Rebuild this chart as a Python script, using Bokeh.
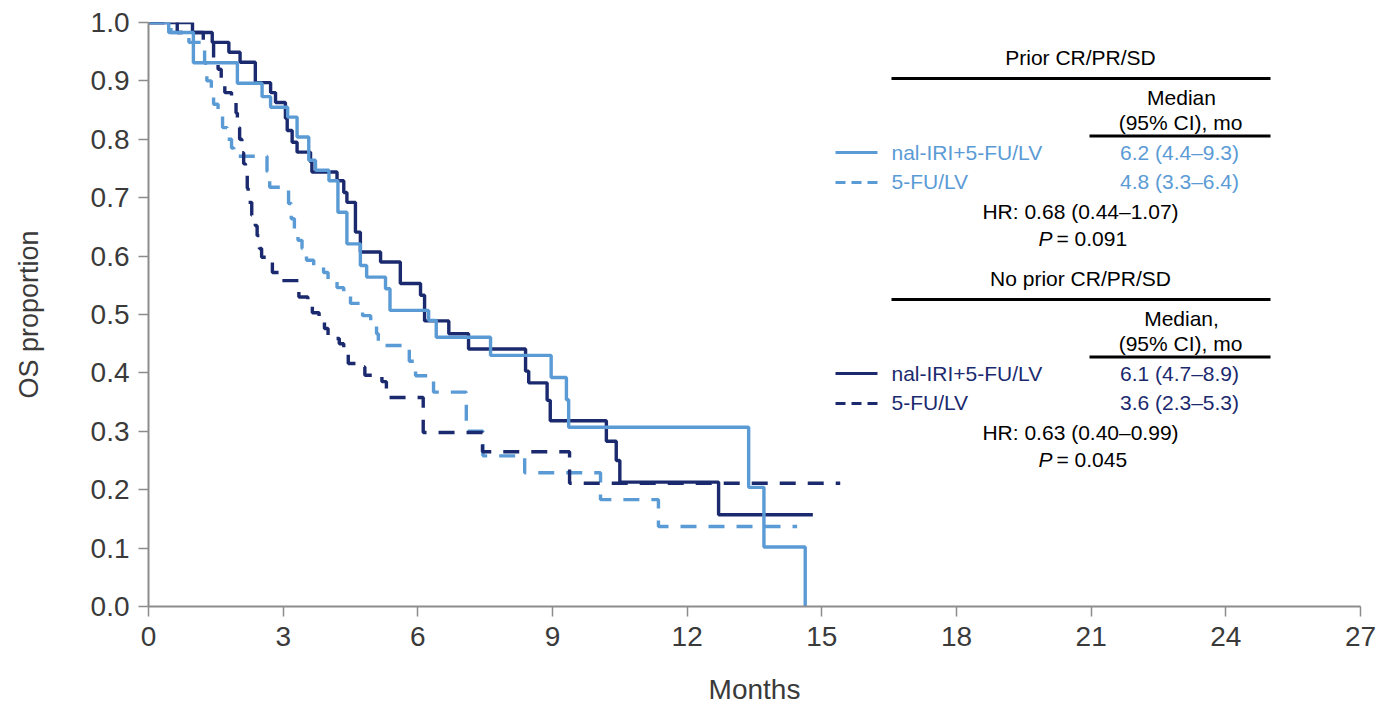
from bokeh.plotting import figure
from bokeh.models import FixedTicker, PrintfTickFormatter, Range1d
from bokeh.core.properties import value
from bokeh.embed import file_html
from bokeh.resources import INLINE

LIGHT = "#5B9BD5"
NAVY = "#1B2A6E"
FONT = "Liberation Sans"

# ---- data: Kaplan-Meier step curves (months, OS proportion) ----
t_nal_prior = [0, 0.45, 1.0, 1.98, 2.53, 2.72, 3.1, 3.31, 3.57, 3.72, 4.02, 4.22, 4.42, 4.72, 4.86,
               5.28, 5.38, 6.24, 6.41, 7.62, 8.97, 9.31, 9.36, 13.37, 13.71, 14.63]
s_nal_prior = [1.0, 0.983, 0.931, 0.896, 0.873, 0.855, 0.838, 0.804, 0.764, 0.747, 0.729, 0.675, 0.621, 0.584, 0.564,
               0.544, 0.507, 0.490, 0.461, 0.430, 0.392, 0.354, 0.307, 0.204, 0.102, 0.0]

t_fu_prior = [0, 0.5, 0.9, 1.25, 1.3, 1.4, 1.45, 1.55, 1.65, 1.75, 1.85, 1.9, 2.64, 2.7, 3.12, 3.18, 3.25,
              3.33, 3.42, 3.52, 3.68, 3.9, 4.0, 4.2, 4.35, 4.5, 4.77, 4.95, 5.08, 5.12, 5.81, 5.95, 6.35,
              7.08, 7.45, 8.38, 10.07, 11.36, 14.45]
s_fu_prior = [1.0, 0.983, 0.966, 0.93, 0.90, 0.875, 0.86, 0.84, 0.82, 0.80, 0.785, 0.771, 0.745, 0.718, 0.69, 0.664, 0.647,
              0.627, 0.613, 0.593, 0.584, 0.572, 0.558, 0.546, 0.533, 0.519, 0.498, 0.485, 0.467, 0.447, 0.42, 0.395, 0.367,
              0.30, 0.258, 0.229, 0.183, 0.137, 0.137]

t_nal_noprior = [0, 0.98, 1.42, 1.79, 2.04, 2.38, 2.72, 2.83, 3.05, 3.09, 3.20, 3.31, 3.61, 3.64, 4.2, 4.35,
                 4.42, 4.61, 4.72, 5.17, 5.61, 6.06, 6.15, 6.69, 7.13, 8.40, 8.47, 8.88, 8.95, 10.2, 10.42,
                 10.5, 12.7, 14.8]
s_nal_noprior = [1.0, 0.983, 0.966, 0.949, 0.932, 0.897, 0.88, 0.863, 0.836, 0.815, 0.795, 0.778, 0.761, 0.744, 0.729, 0.709,
                 0.692, 0.641, 0.607, 0.590, 0.553, 0.533, 0.489, 0.467, 0.441, 0.403, 0.383, 0.353, 0.318, 0.283, 0.25,
                 0.213, 0.157, 0.157]

t_fu_noprior = [0, 0.64, 1.22, 1.45, 1.55, 1.62, 1.7, 1.85, 1.95, 1.98, 2.03, 2.08, 2.12, 2.16, 2.2, 2.22,
                2.3, 2.38, 2.42, 2.47, 2.52, 2.76, 2.95, 3.35, 3.55, 3.65, 3.8, 3.92, 4.0, 4.25, 4.35, 4.45,
                4.7, 4.82, 5.2, 5.3, 6.12, 7.44, 9.38, 15.41]
s_fu_noprior = [1.0, 0.983, 0.966, 0.94, 0.92, 0.90, 0.88, 0.863, 0.845, 0.82, 0.80, 0.777, 0.758, 0.738, 0.716, 0.692,
                0.67, 0.652, 0.635, 0.613, 0.598, 0.572, 0.558, 0.53, 0.515, 0.503, 0.49, 0.476, 0.459, 0.45, 0.433, 0.416,
                0.41, 0.396, 0.385, 0.358, 0.298, 0.265, 0.211, 0.211]

x_ticks = [0, 3, 6, 9, 12, 15, 18, 21, 24, 27]
y_ticks = [0.0, 0.1, 0.2, 0.3, 0.4, 0.5, 0.6, 0.7, 0.8, 0.9, 1.0]

# ---- figure ----
p = figure(width=1393, height=707, output_backend="svg", toolbar_location=None,
           x_range=Range1d(0, 27), y_range=Range1d(0, 1.0),
           min_border_left=148, min_border_right=33, min_border_top=22, min_border_bottom=101)
p.outline_line_color = None
p.xgrid.visible = False
p.ygrid.visible = False
p.background_fill_color = "white"

for ax in (p.xaxis[0], p.yaxis[0]):
    ax.axis_line_color = "#8c8c8c"
    ax.axis_line_width = 2
    ax.major_tick_line_color = "#8c8c8c"
    ax.major_tick_line_width = 1.5
    ax.major_tick_in = 0
    ax.major_tick_out = 10
    ax.minor_tick_line_color = None
    ax.major_label_text_font = FONT
    ax.major_label_text_font_size = "28px"
    ax.major_label_text_color = "#3a3a3a"
    ax.axis_label_text_font = FONT
    ax.axis_label_text_font_style = "normal"
    ax.axis_label_text_color = "#3a3a3a"

p.xaxis.axis_label_text_font_size = "28px"
p.yaxis.axis_label_text_font_size = "27px"
p.xaxis.ticker = FixedTicker(ticks=x_ticks)
p.yaxis.ticker = FixedTicker(ticks=y_ticks)
p.yaxis.formatter = PrintfTickFormatter(format="%.1f")
p.xaxis.axis_label = "Months"
p.yaxis.axis_label = "OS proportion"
p.xaxis.major_label_standoff = 10
p.xaxis.axis_label_standoff = 25
p.yaxis.major_label_standoff = 9
p.yaxis.axis_label_standoff = 44

DASH = "16 12"
LW = 3.4
p.step(t_fu_prior, s_fu_prior, mode="after", line_color=LIGHT, line_width=LW, line_dash=DASH)
p.step(t_fu_noprior, s_fu_noprior, mode="after", line_color=NAVY, line_width=LW, line_dash=DASH)
p.step(t_nal_noprior, s_nal_noprior, mode="after", line_color=NAVY, line_width=LW)
p.step(t_nal_prior, s_nal_prior, mode="after", line_color=LIGHT, line_width=LW)

# ---- annotation block (image pixel positions -> data coordinates) ----
def X(px):
    return (px - 148) / 44.889

def Y(py):
    return (606 - py) / 584.0

def txt(px, py, s, color="black", align="center", style="normal", size="21px"):
    p.text(x=[X(px)], y=[Y(py)], text=[s], text_font=value(FONT), text_font_size=size,
           text_align=align, text_baseline="middle", text_color=color, text_font_style=style)

def rule(x0, x1, py, color="black", dash="solid"):
    p.segment(x0=[X(x0)], y0=[Y(py)], x1=[X(x1)], y1=[Y(py)], line_color=color, line_width=3,
              line_dash=dash)

for off, head, med, col, lab1, lab2, hr, pv in [
    (0, "Prior CR/PR/SD", "Median", LIGHT, "6.2 (4.4–9.3)", "4.8 (3.3–6.4)", "HR: 0.68 (0.44–1.07)", "= 0.091"),
    (221, "No prior CR/PR/SD", "Median,", NAVY, "6.1 (4.7–8.9)", "3.6 (2.3–5.3)", "HR: 0.63 (0.40–0.99)", "= 0.045"),
]:
    txt(1080, 57 + off, head)
    rule(891, 1270, 78 + off)
    txt(1181, 97 + off, med)
    txt(1180, 122 + off, "(95% CI), mo")
    rule(1089, 1270, 135.5 + off)
    rule(835, 877, 152 + off, color=col)
    txt(891, 152 + off, "nal-IRI+5-FU/LV", color=col, align="left")
    txt(1179, 152 + off, lab1, color=col)
    rule(835, 877, 182 + off, color=col, dash="10 6")
    txt(891, 181 + off, "5-FU/LV", color=col, align="left")
    txt(1179, 181 + off, lab2, color=col)
    txt(1080, 211 + off, hr)
    txt(1052, 238 + off, "P", align="right", style="italic")
    txt(1056, 238 + off, pv, align="left")

open("out.html", "w").write(file_html(p, INLINE))
